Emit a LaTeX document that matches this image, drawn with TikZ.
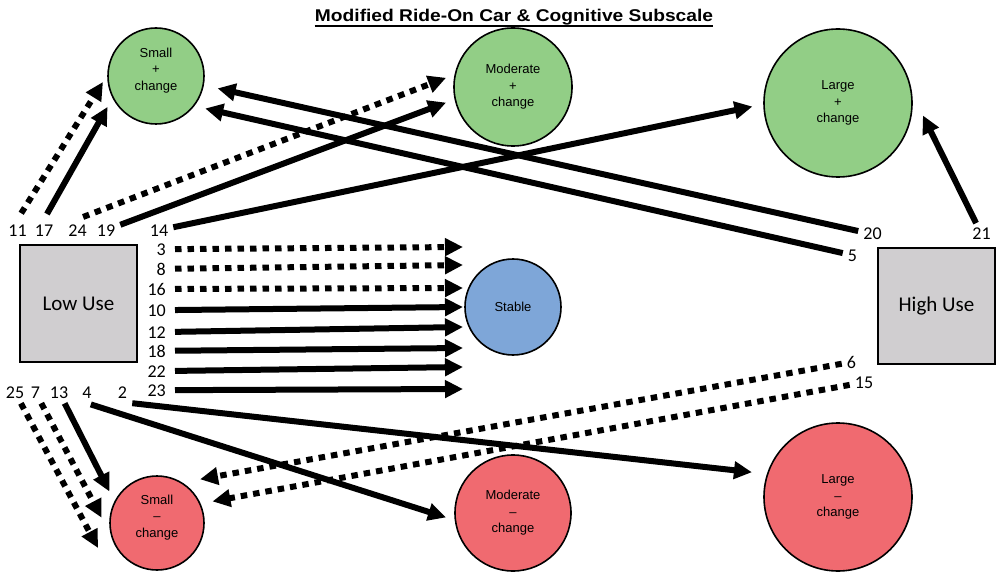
\documentclass[tikz,border=0pt]{standalone}
\usepackage{fontspec}
\usepackage{graphicx}
\setmainfont{Liberation Sans}
\newfontfamily\numfont{Carlito}
\usetikzlibrary{arrows.meta}
\definecolor{gainfill}{RGB}{146,206,134}
\definecolor{lossfill}{RGB}{240,106,112}
\definecolor{flatfill}{RGB}{126,166,216}
\definecolor{usefill}{RGB}{208,206,208}
\begin{document}
\begin{tikzpicture}[x=1pt,y=-1pt,
  poolcirc/.style={circle,draw,line width=1.6pt,inner sep=0pt,minimum size=#1,align=center,font=\fontsize{13}{16.5}\selectfont},
  gaincirc/.style={poolcirc=#1,fill=gainfill},
  losscirc/.style={poolcirc=#1,fill=lossfill},
  flatcirc/.style={poolcirc=#1,fill=flatfill},
  usebox/.style={draw,line width=1.6pt,fill=usefill,minimum width=117pt,minimum height=117pt,font=\numfont\fontsize{21}{21}\selectfont},
  num/.style={inner sep=5pt,anchor=base,font=\numfont\fontsize{18}{18}\selectfont},
  solidarr/.style={line width=6pt,-{Triangle[length=18pt,width=17pt]}},
  dotarr/.style={solidarr,dash pattern=on 6.5pt off 6pt}]
\useasboundingbox (0,0) rectangle (998,572);
% title
\node[anchor=base,inner sep=0pt,font=\bfseries\fontsize{17}{17}\selectfont] (title) at (514,21.5)
  {\scalebox{1.13}[1]{Modified Ride-On Car \& Cognitive Subscale}};
\draw[line width=1.4pt] ([yshift=-4.5pt]title.base west) -- ([yshift=-4.5pt]title.base east);
% groups
\node[usebox] (low) at (78.5,303.5) {Low Use};
\node[usebox,minimum height=116pt] (high) at (936.5,306) {High Use};
% change circles
\node[gaincirc=96pt] (sp) at (156,76) {Small\\+\\change\\[-8pt]\strut};
\node[gaincirc=118pt] (mp) at (513,87) {Moderate\\+\\change};
\node[gaincirc=148pt] (lp) at (838,103) {Large\\+\\change};
\node[flatcirc=96pt] (st) at (513,307) {Stable};
\node[losscirc=94pt] (sm) at (157,523) {Small\\--\\change\\[-8pt]\strut};
\node[losscirc=116pt] (mm) at (513,513) {Moderate\\--\\change};
\node[losscirc=148pt] (lm) at (838,497) {Large\\--\\change};
% case numbers
\foreach \n/\x/\y in {11/17.5/236,17/44/236,24/77.5/236,19/106/236,14/159/236,
  20/872.5/240,21/981.5/240,5/852.5/261,6/851.5/368,15/864/388,
  25/15/398,7/35.5/398,13/59/398,4/87/398,2/122.5/398}
  \node[num] (n\n) at (\x,\y) {\n};
\foreach \n/\y in {3/255,8/275,16/295,10/316,12/338,18/357,22/377,23/396}
  \node[num,anchor=base east] (n\n) at (171,\y) {\n};
\coordinate (t25) at (98,548);
% arrows to the change circles
\foreach \f/\t/\k/\a/\b in {n11.north/sp.179/dotarr/7pt/8pt, n17.north/sp.207/solidarr/6pt/10pt,
  n24.north/mp.168/dotarr/6pt/9pt, n19/mp.192/solidarr/0pt/9pt, n14/lp.181/solidarr/0pt/11pt,
  n20/sp.349/solidarr/0pt/14pt, n5/sp.322/solidarr/0pt/11pt, n21/lp.7/solidarr/0pt/24pt,
  n25/t25/dotarr/0pt/0pt, n7/sm.195/dotarr/0pt/20pt, n13/sm.153/solidarr/0pt/11pt,
  n4.south/mm.187/solidarr/4pt/9pt, n2.south east/lm.162/solidarr/0pt/15pt,
  n6/sm.58/dotarr/0pt/18pt, n15/sm.24/dotarr/0pt/12pt}
  \draw[\k,shorten <=\a,shorten >=\b] (\f) -- (\t);
% arrows to stable
\foreach \n/\y/\k in {3/247/dotarr,8/265/dotarr,16/288/dotarr,10/307/solidarr,
  12/327/solidarr,18/348/solidarr,22/367/solidarr,23/389/solidarr}
{
  \coordinate (e\n) at (463,\y);
  \draw[\k,shorten <=4pt] (n\n) -- (e\n);
}
\end{tikzpicture}
\end{document}
